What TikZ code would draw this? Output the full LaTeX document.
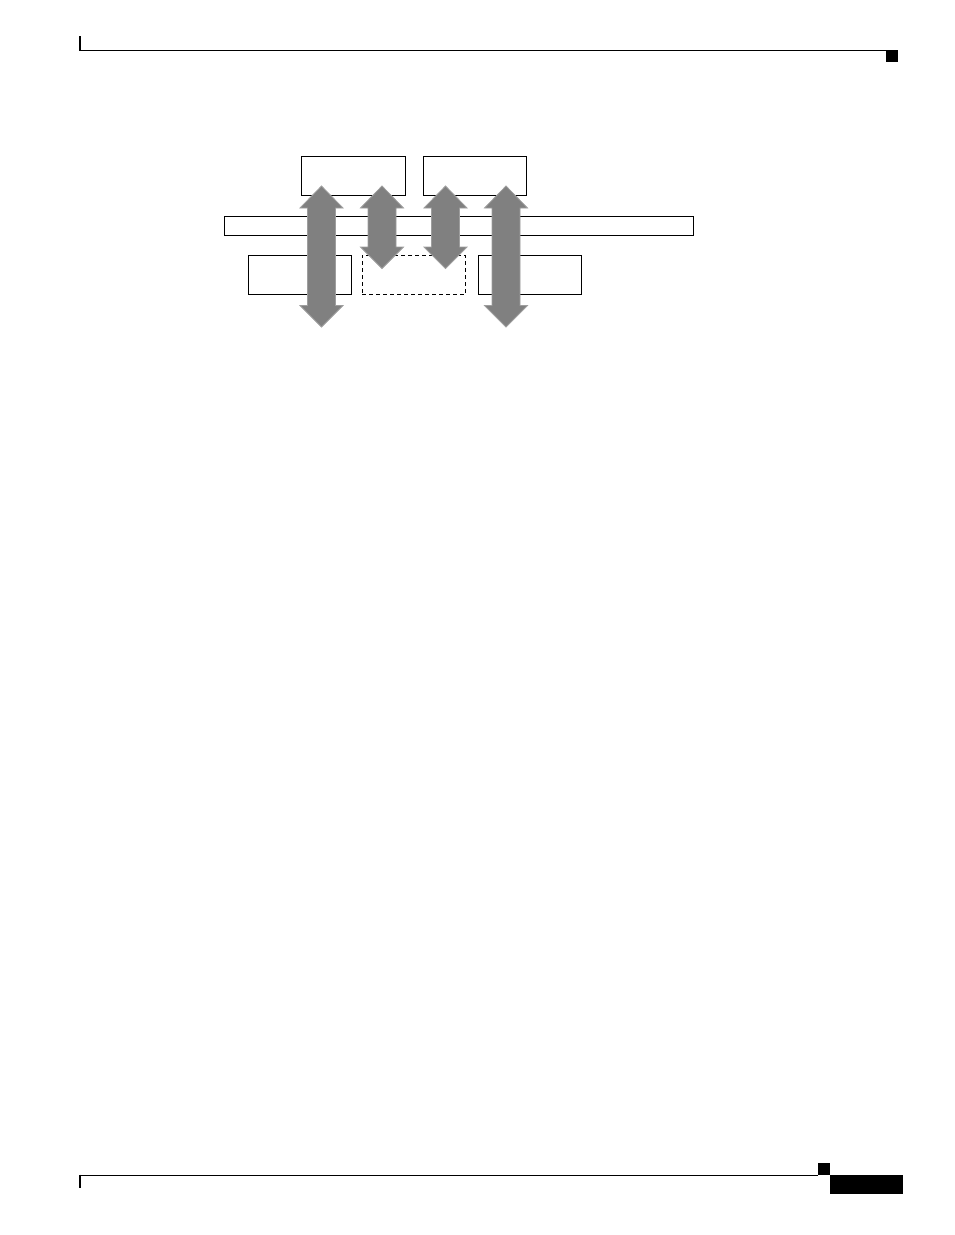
\documentclass[tikz,border=0pt]{standalone}
\usetikzlibrary{calc}
\begin{document}
\begin{tikzpicture}[x=1pt,y=-1pt,
  boxstyle/.style={draw=black,line width=1pt,rectangle,inner sep=0pt,outer sep=0pt,fill=none},
  dashbox/.style={boxstyle,dash pattern=on 4pt off 3pt},
  arrowfill/.style={fill=black!50,draw=black!38,line width=0.8pt,line join=miter},
  rule/.style={line width=1pt,draw=black},
  tick/.style={line width=2pt,draw=black},
  blk/.style={fill=black,draw=none}]
\useasboundingbox (0,0) rectangle (954,1235);
% page header and footer
\coordinate (hl) at (79,50);
\coordinate (hr) at (886,50);
\coordinate (ht) at (80,36);
\coordinate (hb) at (80,50.5);
\draw[rule] (hl) -- (hr);
\draw[tick] (ht) -- (hb);
\fill[blk] (886,50) rectangle (897.7,61.7);
\coordinate (fl) at (79,1175);
\coordinate (fr) at (818.3,1175);
\coordinate (ft) at (80,1174.5);
\coordinate (fb) at (80,1188);
\draw[rule] (fl) -- (fr);
\draw[tick] (ft) -- (fb);
\fill[blk] (818.3,1162.7) rectangle (830,1175);
\fill[blk] (830,1175) rectangle (902.7,1193.7);
% boxes
\node[boxstyle,minimum width=104pt,minimum height=39pt] (top1) at (353,175.6) {};
\node[boxstyle,minimum width=103pt,minimum height=39pt] (top2) at (474.8,175.6) {};
\node[boxstyle,minimum width=469pt,minimum height=19pt] (bar) at (458.8,225.8) {};
\node[boxstyle,minimum width=103.4pt,minimum height=39pt] (bot1) at (300,274.8) {};
\node[dashbox,minimum width=103.4pt,minimum height=39pt] (bot2) at (414,274.7) {};
\node[boxstyle,minimum width=103pt,minimum height=39pt] (bot3) at (529.8,274.7) {};
% arrow ends
\coordinate (a1t) at (321.5,186);
\coordinate (a1b) at (321.5,327);
\coordinate (a2t) at (382,186);
\coordinate (a2b) at (382,268.5);
\coordinate (a3t) at (445.5,186);
\coordinate (a3b) at (445.5,268.5);
\coordinate (a4t) at (506,186);
\coordinate (a4b) at (506,327);
\newcommand\dblarrow[2]{%
  \draw[arrowfill] let \p1=(#1), \p2=(#2) in
    (\x1,\y1) -- (\x1+21.5pt,\y1-22pt) -- (\x1+14pt,\y1-22pt)
    -- (\x1+14pt,\y2+21.5pt) -- (\x1+21.5pt,\y2+21.5pt) -- (\x2,\y2)
    -- (\x1-21.5pt,\y2+21.5pt) -- (\x1-14pt,\y2+21.5pt)
    -- (\x1-14pt,\y1-22pt) -- (\x1-21.5pt,\y1-22pt) -- cycle;}
\dblarrow{a1t}{a1b}
\dblarrow{a2t}{a2b}
\dblarrow{a3t}{a3b}
\dblarrow{a4t}{a4b}
\end{tikzpicture}
\end{document}
